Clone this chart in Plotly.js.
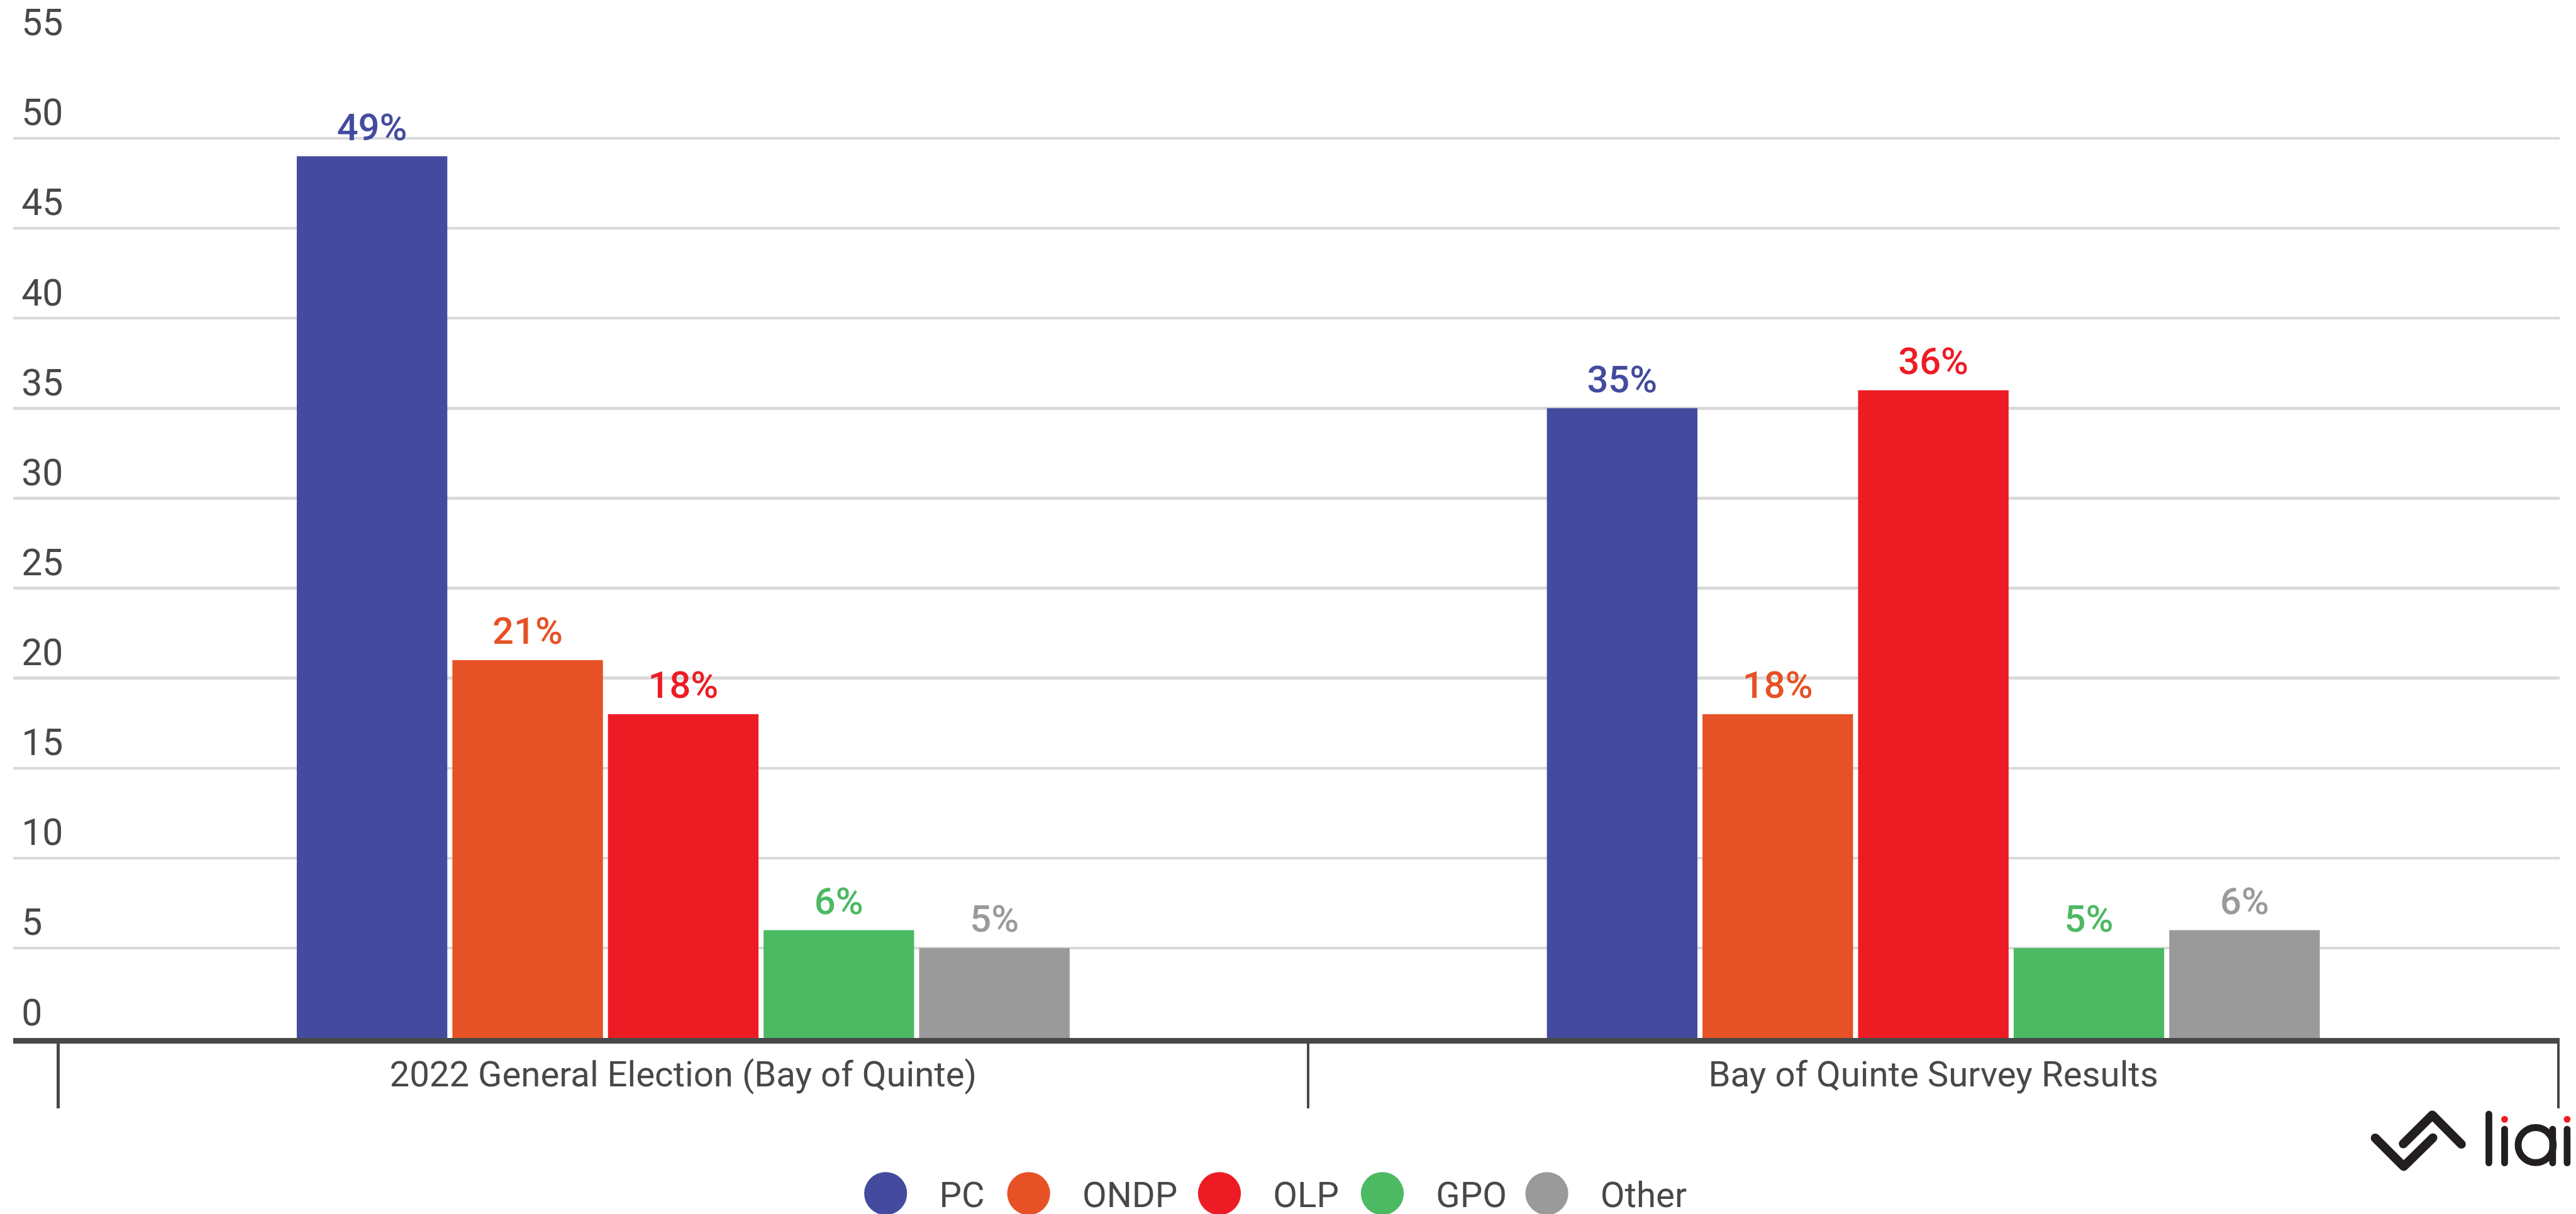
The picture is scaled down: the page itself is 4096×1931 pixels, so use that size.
<!DOCTYPE html>
<html>
<head>
<meta charset="utf-8">
<script src="https://cdn.plot.ly/plotly-3.0.1.min.js"></script>
<style>
  html, body { margin: 0; padding: 0; background: #ffffff; overflow: hidden; }
  #wrap { width: 4096px; height: 1931px; overflow: hidden; position: relative; background: #ffffff; }
  #chart { width: 960px; height: 453px; transform: scale(4.266667); transform-origin: 0 0; position: absolute; left: 0; top: 0; }
</style>
</head>
<body>
<div id="wrap"><div id="chart"></div></div>
<script>
// ---- data ----
const categories = ["2022 General Election (Bay of Quinte)", "Bay of Quinte Survey Results"];
const parties = ["PC", "ONDP", "OLP", "GPO", "Other"];
const pcValues = [49, 35];
const ondpValues = [21, 18];
const olpValues = [18, 36];
const gpoValues = [6, 5];
const otherValues = [5, 6];
const yTicks = [0, 5, 10, 15, 20, 25, 30, 35, 40, 45, 50, 55];

// ---- styles ----
const colors = ["#444b9e", "#e65125", "#ed1c24", "#4cb963", "#9a9a9a"];
const legendWidths = [8.3, 26.1, 15.7, 16.3, 40];
const seriesValues = [pcValues, ondpValues, olpValues, gpoValues, otherValues];
const textColor = "#474948";
const font = "Roboto, 'Open Sans', sans-serif";

const traces = [];
parties.forEach((p, i) => {
  traces.push({
    type: "bar",
    name: p,
    x: categories,
    y: seriesValues[i],
    marker: { color: colors[i], line: { width: 0 } },
    text: seriesValues[i].map(v => v + "%"),
    textposition: "outside",
    textfont: { family: font, size: 14, color: colors[i], weight: 500 },
    cliponaxis: false,
    showlegend: false,
    legendgroup: p,
    hoverinfo: "skip"
  });
});
parties.forEach((p, i) => {
  traces.push({
    type: "scatter",
    mode: "markers",
    name: p,
    x: [null],
    y: [null],
    marker: { color: colors[i], size: 16, symbol: "circle" },
    showlegend: true,
    legendgroup: p,
    legendwidth: legendWidths[i],
    hoverinfo: "skip"
  });
});

const logoSvg =
  "<svg xmlns='http://www.w3.org/2000/svg' viewBox='4210 1970 374 120' width='374' height='120'>" +
  "<g fill='none' stroke='#231f20' stroke-linecap='round' stroke-linejoin='round'>" +
  "<polyline points='4226.7,2025.7 4277.3,2076.3 4329.3,2025.3' stroke-width='16'/>" +
  "<polyline points='4276.7,2036 4328.3,1984.7 4380,2036.7' stroke-width='16'/>" +
  "<line x1='4429' y1='1983' x2='4429' y2='2070' stroke-width='12'/>" +
  "<line x1='4457' y1='2010' x2='4457' y2='2070' stroke-width='12'/>" +
  "<circle cx='4512.3' cy='2038.3' r='31.2' stroke-width='12.3'/>" +
  "<line x1='4542.5' y1='2010' x2='4542.5' y2='2070' stroke-width='12'/>" +
  "<line x1='4568.3' y1='2010' x2='4568.3' y2='2070' stroke-width='12'/>" +
  "</g>" +
  "<circle cx='4457' cy='1992.3' r='6' fill='#ed1c24'/>" +
  "<circle cx='4568.3' cy='1992.3' r='6' fill='#ed1c24'/>" +
  "</svg>";
const logoUri = "data:image/svg+xml;charset=utf-8," + encodeURIComponent(logoSvg);

const layout = {
  width: 960,
  height: 453,
  margin: { l: 5, r: 6, t: 18, b: 66, pad: 0 },
  paper_bgcolor: "#ffffff",
  plot_bgcolor: "#ffffff",
  font: { family: font, color: textColor, size: 13.2 },
  barmode: "group",
  bargap: 0.3777,
  bargroupgap: 0.0325,
  showlegend: true,
  xaxis: {
    type: "category",
    range: [-0.5358, 1.5012],
    showgrid: false,
    zeroline: false,
    showline: true,
    linecolor: "#474948",
    linewidth: 2.1,
    ticks: "outside",
    tickson: "boundaries",
    ticklen: 24,
    tickwidth: 1.05,
    tickcolor: "#474948",
    tickfont: { family: font, size: 13.2, color: textColor },
    ticklabelstandoff: 0,
    fixedrange: true
  },
  yaxis: {
    range: [0, 55],
    tickvals: yTicks,
    ticktext: yTicks.map(String),
    showgrid: true,
    gridcolor: "#d9d9d9",
    gridwidth: 1.05,
    zeroline: false,
    showline: false,
    ticks: "",
    ticklabelposition: "inside top",
    ticklabeloverflow: "allow",
    tickfont: { family: font, size: 13.8, color: textColor },
    fixedrange: true
  },
  legend: {
    orientation: "h",
    xref: "container",
    yref: "container",
    x: 0.32297,
    xanchor: "left",
    y: 0.0169,
    yanchor: "middle",
    font: { family: font, size: 13.2, color: textColor },
    bgcolor: "rgba(0,0,0,0)",
    itemclick: false,
    itemdoubleclick: false
  },
  images: [{
    source: logoUri,
    xref: "paper",
    yref: "paper",
    x: 0.9238,
    y: -0.0694,
    sizex: 0.0825,
    sizey: 0.0680,
    sizing: "stretch",
    xanchor: "left",
    yanchor: "top",
    layer: "above"
  }]
};

Plotly.newPlot("chart", traces, layout, { displayModeBar: false, responsive: false, staticPlot: true });
</script>
</body>
</html>
